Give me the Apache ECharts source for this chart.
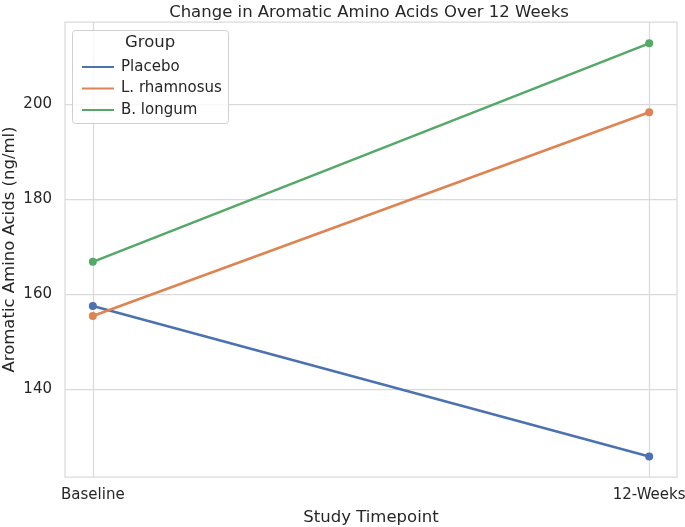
<!DOCTYPE html>
<html><head><meta charset="utf-8">
<script src="https://cdn.jsdelivr.net/npm/echarts@6/dist/echarts.min.js"></script>
<style>html,body{margin:0;padding:0;background:#fff}#c{width:685px;height:527px}</style>
</head><body><div id="c"></div>
<script>
const categories = ['Baseline', '12-Weeks'];
const yTicks = [140, 160, 180, 200];
const placebo = [157.5, 125.8];
const rhamnosus = [155.4, 198.3];
const longum = [166.8, 212.8];
const seriesNames = ['Placebo', 'L. rhamnosus', 'B. longum'];
const colors = ['#4c72b0', '#dd8452', '#55a868'];
const seriesData = [placebo, rhamnosus, longum];

const font = 'DejaVu Sans';
const txt = '#262626';
const gridCol = '#dadada';

const chart = echarts.init(document.getElementById('c'), null, {renderer: 'canvas'});
chart.setOption({
  animation: false,
  backgroundColor: '#fff',
  textStyle: {fontFamily: font, color: txt},
  title: {
    text: 'Change in Aromatic Amino Acids Over 12 Weeks',
    left: 364, top: -1, textAlign: 'center',
    textStyle: {fontFamily: font, fontSize: 16.5, fontWeight: 'normal', color: txt}
  },
  grid: {left: 65, right: 8, top: 22, bottom: 50, outerBoundsMode: 'none', containLabel: false,
    show: true, borderColor: gridCol, borderWidth: 1.25, backgroundColor: 'transparent'},
  xAxis: {
    type: 'value', min: -0.05, max: 1.05,
    name: 'Study Timepoint', nameLocation: 'middle', nameGap: 32, nameMoveOverlap: false,
    nameTextStyle: {fontFamily: font, fontSize: 16.5, color: txt},
    axisLine: {show: false}, axisTick: {show: false, customValues: [0, 1]},
    axisLabel: {customValues: [0, 1], formatter: v => categories[Math.round(v)], fontFamily: font, fontSize: 15, color: txt, margin: 11},
    splitLine: {show: true, lineStyle: {color: gridCol, width: 1.25}}
  },
  yAxis: {
    type: 'value', min: 121.5, max: 217.3,
    name: 'Aromatic Amino Acids (ng/ml)', nameLocation: 'middle', nameGap: 47, nameMoveOverlap: false,
    nameTextStyle: {fontFamily: font, fontSize: 16.5, color: txt},
    axisLine: {show: false}, axisTick: {show: false, customValues: yTicks},
    axisLabel: {customValues: yTicks, fontFamily: font, fontSize: 15, color: txt, margin: 13},
    splitLine: {show: true, lineStyle: {color: gridCol, width: 1.25}}
  },
  legend: {
    orient: 'vertical', left: 77, top: 54, itemWidth: 32, itemHeight: 2, itemGap: 5.5,
    icon: 'rect', z: 10,
    textStyle: {fontFamily: font, fontSize: 15, color: txt, lineHeight: 16, padding: [0, 0, 0, 2]},
    data: seriesNames
  },
  graphic: [
    {type: 'rect', left: 72, top: 30, shape: {width: 156, height: 93, r: 3}, style: {fill: 'rgba(255,255,255,0.8)', stroke: '#d0d0d0', lineWidth: 1}, z: 3},
    {type: 'text', left: 125, top: 34, style: {text: 'Group', font: '16.5px "DejaVu Sans"', fill: txt}, z: 11}
  ],
  series: seriesNames.map((n, i) => ({
    name: n, type: 'line',
    data: seriesData[i].map((v, j) => [j, v]),
    color: colors[i],
    lineStyle: {width: 2.6, color: colors[i]},
    itemStyle: {color: colors[i]},
    symbol: 'circle', symbolSize: 8, showSymbol: true
  }))
});
</script></body></html>
